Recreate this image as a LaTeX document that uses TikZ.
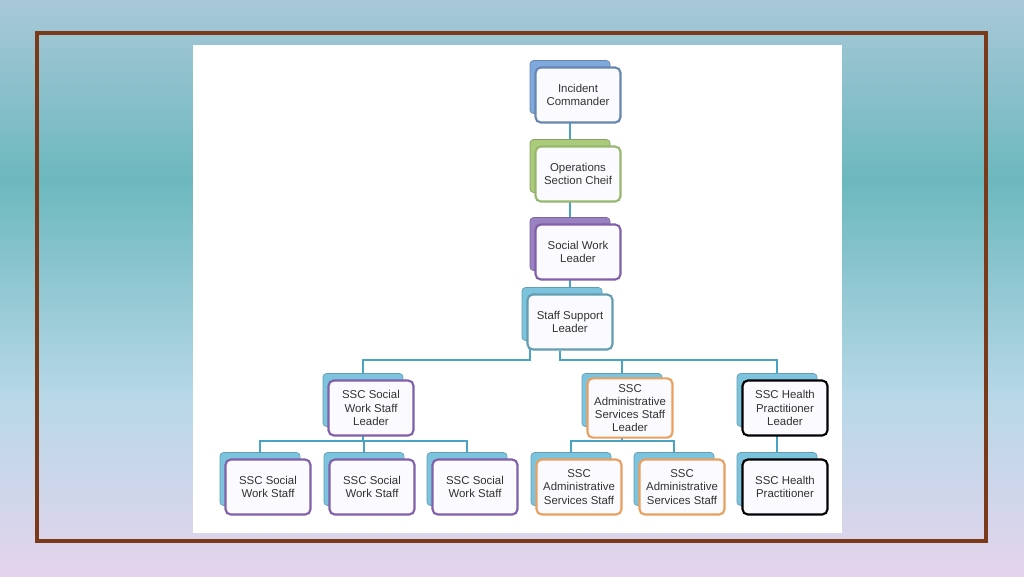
\documentclass[tikz,border=0pt]{standalone}
\usepackage{fontspec}
\setmainfont{Liberation Sans}
\usetikzlibrary{calc,backgrounds}
\definecolor{linkc}{HTML}{4AA3C0}
\definecolor{backc}{HTML}{7CC4DE}
\definecolor{topblue}{HTML}{7FA8DC}
\definecolor{topgreen}{HTML}{A9CB7A}
\definecolor{toppurple}{HTML}{9A82C2}
\definecolor{purpc}{HTML}{8060A8}
\definecolor{orangec}{HTML}{E8A060}
\definecolor{framec}{HTML}{7A3A1A}
\definecolor{bgtop}{HTML}{A8C8D8}
\definecolor{bgmid}{HTML}{6CB8BE}
\definecolor{bglow}{HTML}{B8D8E8}
\definecolor{bgbot}{HTML}{E4D4EC}
\tikzset{
  backbox/.style={draw=#1!80!black, fill=#1, rounded corners=2pt, minimum width=1.6cm, minimum height=1.06cm},
  frontbox/.style={draw=#1, line width=1.2pt, fill=blue!2, rounded corners=3pt, minimum width=1.7cm, minimum height=1.1cm,
    align=center, font=\fontsize{6.5}{7.5}\selectfont, text=black!80},
  link/.style={draw=linkc, line width=1.2pt}
}
% back shadow box and front box
\newcommand{\orgbox}[5]{%
  \node[backbox=#3] (#1-b) at ($(#2)+(-8,-8)$) {};
  \node[frontbox=#4] (#1) at (#2) {#5};
}
\begin{document}
\begin{tikzpicture}[x=0.02cm,y=-0.02cm]
  \useasboundingbox (0,0) rectangle (1024,576);

  % top chain
  \orgbox{ic}{578,95}{topblue}{topblue!80!black}{Incident\\Commander}
  \orgbox{os}{578,174}{topgreen}{topgreen!90!black}{Operations\\Section Cheif}
  \orgbox{sw}{578,252}{toppurple}{purpc}{Social Work\\Leader}
  \orgbox{ss}{570,322}{backc}{backc!80!black}{Staff Support\\Leader}

  % second row
  \orgbox{swl}{371,408}{backc}{purpc}{SSC Social\\Work Staff\\Leader}
  \orgbox{adl}{630,408}{backc}{orangec}{SSC\\Administrative\\Services Staff\\Leader}
  \orgbox{hpl}{785,408}{backc}{black}{SSC Health\\Practitioner\\Leader}

  % bottom row
  \orgbox{sw1}{268,487}{backc}{purpc}{SSC Social\\Work Staff}
  \orgbox{sw2}{372,487}{backc}{purpc}{SSC Social\\Work Staff}
  \orgbox{sw3}{475,487}{backc}{purpc}{SSC Social\\Work Staff}
  \orgbox{ad1}{579,487}{backc}{orangec}{SSC\\Administrative\\Services Staff}
  \orgbox{ad2}{682,487}{backc}{orangec}{SSC\\Administrative\\Services Staff}
  \orgbox{hp1}{785,487}{backc}{black}{SSC Health\\Practitioner}

  \begin{scope}[on background layer]
    % background
    \shade[top color=bgtop, bottom color=bgmid] (0,0) rectangle (1024,180);
    \shade[top color=bgmid, bottom color=bglow] (0,180) rectangle (1024,400);
    \shade[top color=bglow, bottom color=bgbot] (0,400) rectangle (1024,576);
    \draw[framec, line width=2.2pt] (37,33) rectangle (986,541);
    \fill[white] (193,45) rectangle (842,533);
    % connectors
    \path[link] (ic-b.south) -- (os-b.north);
    \path[link] (os-b.south) -- (sw-b.north);
    \path[link] (sw-b.south) -- (sw-b.south |- ss-b.north);
    \coordinate (ssbar) at (0,360);
    \path[link] (ss-b.south west) ++(8,0) |- (swl-b.north |- ssbar) -- (swl-b.north);
    \path[link] (ss.south) ++(-10,0) |- (hpl-b.north |- ssbar) -- (hpl-b.north);
    \path[link] (adl-b.north |- ssbar) -- (adl-b.north);
    \coordinate (lowbar) at (0,441);
    \path[link] (swl-b.south) -- (swl-b.south |- lowbar);
    \path[link] (sw1-b.north) |- (sw3-b.north |- lowbar) -- (sw3-b.north);
    \path[link] (sw2-b.north |- lowbar) -- (sw2-b.north);
    \path[link] (adl-b.south) -- (adl-b.south |- lowbar);
    \path[link] (ad1-b.north) |- (ad2-b.north |- lowbar) -- (ad2-b.north);
    \path[link] (hpl-b.south) -- (hp1-b.north);
  \end{scope}
\end{tikzpicture}
\end{document}
